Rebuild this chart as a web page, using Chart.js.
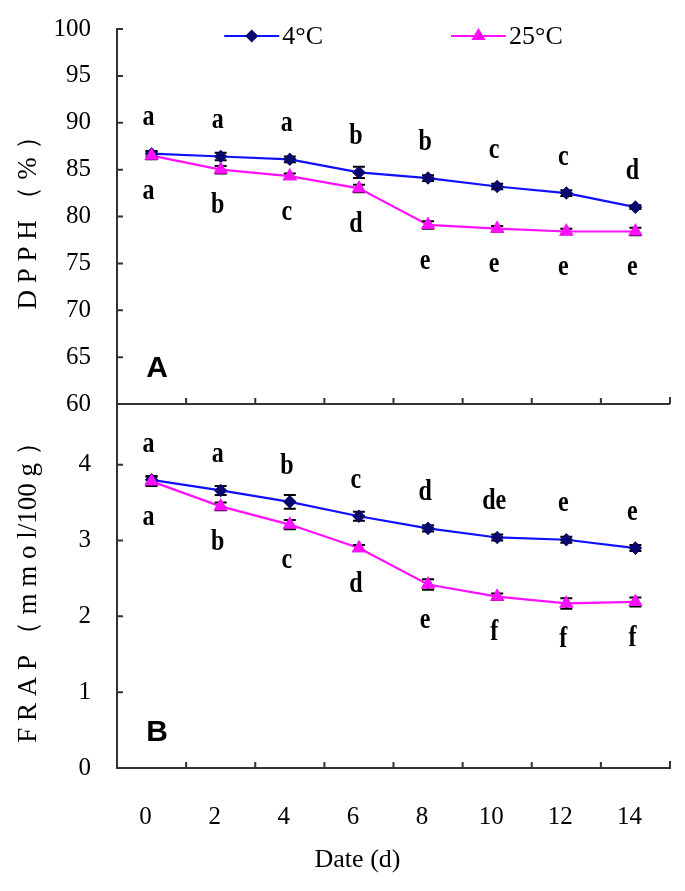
<!DOCTYPE html>
<html><head><meta charset="utf-8">
<script src="https://cdn.jsdelivr.net/npm/chart.js@4/dist/chart.umd.min.js"></script>
<style>
html,body{margin:0;padding:0;background:#fff;}
#wrap{position:relative;width:685px;height:891px;background:#fff;}
canvas{position:absolute;left:0;top:0;}
</style></head><body>
<div id="wrap"><canvas id="c1" width="685" height="891"></canvas><canvas id="c2" width="685" height="891"></canvas></div>
<script>
// ---------- data ----------
const days = ['0','2','4','6','8','10','12','14'];
const seriesNames = ['4°C','25°C'];
const dpph4  = [86.7, 86.4, 86.1, 84.7, 84.1, 83.2, 82.5, 81.0];
const dpph25 = [86.5, 85.0, 84.3, 83.0, 79.1, 78.7, 78.4, 78.4];
const dpph4Err  = [0.3, 0.4, 0.3, 0.6, 0.3, 0.3, 0.3, 0.2];
const dpph25Err = [0.4, 0.4, 0.3, 0.4, 0.4, 0.3, 0.3, 0.4];
const frap4  = [3.80, 3.66, 3.51, 3.32, 3.16, 3.04, 3.01, 2.90];
const frap25 = [3.78, 3.45, 3.21, 2.90, 2.42, 2.26, 2.17, 2.19];
const frap4Err  = [0.05, 0.06, 0.09, 0.06, 0.04, 0.04, 0.04, 0.04];
const frap25Err = [0.06, 0.05, 0.06, 0.04, 0.07, 0.04, 0.07, 0.06];
const dpph4Letters  = ['a','a','a','b','b','c','c','d'];
const dpph25Letters = ['a','b','c','d','e','e','e','e'];
const frap4Letters  = ['a','a','b','c','d','de','e','e'];
const frap25Letters = ['a','b','c','d','e','f','f','f'];
const dpphTicks = {min:60, max:100, step:5};
const frapTicks = {min:0, max:4.8, step:1};

// ---------- styles ----------
const SERIF = '"Liberation Serif", "DejaVu Serif", serif';
const BLUE = '#1010ff', NAVY = '#0a0a6e', MAG = '#ff10ff';
const AXIS = '#333333';

function ds(label, data, err, letters, color, mcolor, style, radius, above){
  return {label, data, err, letters, above,
    borderColor: color, backgroundColor: mcolor, pointBackgroundColor: mcolor, pointBorderColor: mcolor,
    pointStyle: style, pointRadius: radius, borderWidth: 2.2, tension: 0, fill:false};
}

const decor = {
  id:'decor',
  afterDatasetsDraw(chart, args, opts){
    const ctx = chart.ctx, ca = chart.chartArea;
    const xs = chart.scales.x, ys = chart.scales.y;
    ctx.save();
    // error bars
    chart.data.datasets.forEach((d, di) => {
      const meta = chart.getDatasetMeta(di);
      ctx.strokeStyle = '#000'; ctx.lineWidth = 2;
      d.data.forEach((v, i) => {
        const x = meta.data[i].x, e = d.err[i];
        const y1 = ys.getPixelForValue(v + e), y2 = ys.getPixelForValue(v - e);
        ctx.beginPath();
        ctx.moveTo(x, y1); ctx.lineTo(x, y2);
        ctx.moveTo(x-6, y1); ctx.lineTo(x+6, y1);
        ctx.moveTo(x-6, y2); ctx.lineTo(x+6, y2);
        ctx.stroke();
      });
    });
    // redraw points on top of error bars
    chart.data.datasets.forEach((d, di) => {
      const meta = chart.getDatasetMeta(di);
      meta.data.forEach(p => p.draw(ctx, ca));
    });
    // letters
    ctx.fillStyle = '#000';
    ctx.textAlign = 'center'; ctx.textBaseline = 'middle';
    chart.data.datasets.forEach((d, di) => {
      const meta = chart.getDatasetMeta(di);
      d.letters.forEach((t, i) => {
        const x = meta.data[i].x - 3;
        const y = meta.data[i].y + (d.above ? -36 : 36);
        ctx.save();
        ctx.translate(x, y); ctx.scale(1, 1.25);
        ctx.font = 'bold 24px ' + SERIF;
        ctx.fillText(t, 0, 0);
        ctx.restore();
      });
    });
    // axis lines & inward ticks
    ctx.strokeStyle = AXIS; ctx.lineWidth = 2;
    ctx.beginPath();
    if (opts.bottomLine){ ctx.moveTo(ca.left, ca.bottom); ctx.lineTo(ca.right, ca.bottom); }
    ys.ticks.forEach(t => {
      if (t.value === ys.min) return;
      const y = ys.getPixelForValue(t.value);
      ctx.moveTo(ca.left, y); ctx.lineTo(ca.left + 6, y);
    });
    for (let i = 0; i < days.length - 1; i++){
      const x = (xs.getPixelForValue(i) + xs.getPixelForValue(i+1)) / 2;
      ctx.moveTo(x, ca.bottom); ctx.lineTo(x, ca.bottom - 6);
    }
    ctx.moveTo(ca.right, ca.bottom); ctx.lineTo(ca.right, ca.bottom - 7);
    ctx.stroke();
    // panel label
    ctx.fillStyle = '#000';
    ctx.font = 'bold 30px "Liberation Sans", Arial, sans-serif';
    ctx.textAlign = 'center'; ctx.textBaseline = 'middle';
    ctx.fillText(opts.panel, ca.left + 40, ca.bottom - 35);
    // x-axis title
    if (opts.xTitle){
      ctx.fillStyle = '#000';
      ctx.font = '26px ' + SERIF;
      ctx.fillText(opts.xTitle, (ca.left + ca.right)/2 - 36, 860);
    }
    // legend
    if (opts.legend){
      ctx.font = '26px ' + SERIF;
      ctx.textAlign = 'left';
      const lineW = 55, gapT = 3, gapItem = 128;
      const items = chart.data.datasets.map(d => ({d, w: lineW + gapT + ctx.measureText(d.label).width}));
      const total = items.reduce((s, it) => s + it.w, 0) + gapItem*(items.length-1);
      let x = (ca.left + ca.right)/2 - total/2;
      const y = 36;
      items.forEach(it => {
        const d = it.d;
        ctx.strokeStyle = d.borderColor; ctx.lineWidth = 2.2;
        ctx.beginPath(); ctx.moveTo(x, y); ctx.lineTo(x + lineW, y); ctx.stroke();
        ctx.fillStyle = d.pointBackgroundColor; ctx.strokeStyle = d.pointBorderColor;
        Chart.helpers.drawPoint(ctx, {pointStyle: d.pointStyle, radius: d.pointRadius, rotation: 0, borderWidth: 1}, x + lineW/2, y);
        ctx.fillStyle = '#000';
        ctx.fillText(d.label, x + lineW + gapT, y + 1);
        x += it.w + gapItem;
      });
    }
    ctx.restore();
  }
};

const common = {
  responsive:false, animation:false, devicePixelRatio:1,
  plugins:{legend:{display:false}, tooltip:{enabled:false}}
};

function yScale(t, title, extra){
  return Object.assign({
    min: t.min, max: t.max,
    ticks:{stepSize: t.step, padding: 26, color:'#000', font:{family: SERIF, size: 25}},
    grid:{display:false, drawTicks:false},
    border:{display:true, color: AXIS, width: 2},
    title:{display:true, text: title, color:'#000', font:{family: SERIF, size: 27}, padding:{top: 13, bottom: 0}},
    afterFit(s){ s.width = 117; s.paddingTop = 0; s.paddingBottom = 0; }
  }, extra || {});
}

new Chart(document.getElementById('c1'), {
  type:'line',
  data:{labels: days, datasets:[
    ds(seriesNames[0], dpph4, dpph4Err, dpph4Letters, BLUE, NAVY, 'rectRot', 5, true),
    ds(seriesNames[1], dpph25, dpph25Err, dpph25Letters, MAG, MAG, 'triangle', 6, false)
  ]},
  options: Object.assign({}, common, {
    layout:{autoPadding:false, padding:{top:29, left:0, right:15, bottom: 891-404}},
    scales:{
      x:{type:'category', offset:true, display:false},
      y: yScale(dpphTicks, 'D P P H （ % ）')
    },
    plugins:{legend:{display:false}, tooltip:{enabled:false},
      decor:{panel:'A', bottomLine:true, legend:true}}
  }),
  plugins:[decor]
});

new Chart(document.getElementById('c2'), {
  type:'line',
  data:{labels: days, datasets:[
    ds(seriesNames[0], frap4, frap4Err, frap4Letters, BLUE, NAVY, 'rectRot', 5, true),
    ds(seriesNames[1], frap25, frap25Err, frap25Letters, MAG, MAG, 'triangle', 6, false)
  ]},
  options: Object.assign({}, common, {
    layout:{autoPadding:false, padding:{top:404, left:0, right:15, bottom:0}},
    scales:{
      x:{type:'category', offset:true,
         ticks:{padding: 34, labelOffset: -6, color:'#000', font:{family: SERIF, size: 25}},
         grid:{display:false, drawTicks:false},
         border:{display:true, color: AXIS, width: 2},
         afterFit(s){ s.height = 891 - 768; }},
      y: yScale(frapTicks, 'F R A P （ m m o l/100 g ）', {
         afterBuildTicks(s){ s.ticks = s.ticks.filter(t => Number.isInteger(t.value)); }
      })
    },
    plugins:{legend:{display:false}, tooltip:{enabled:false},
      decor:{panel:'B', xTitle:'Date (d)'}}
  }),
  plugins:[decor]
});
</script>
</body></html>
